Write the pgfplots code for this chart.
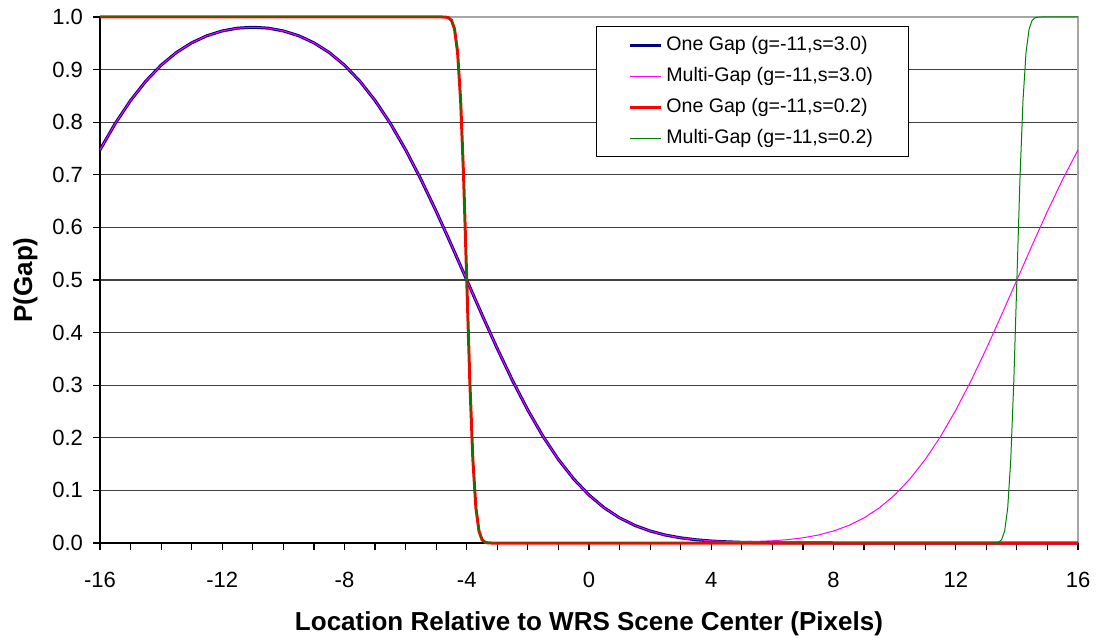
\documentclass[border=0pt]{standalone}
\usepackage{fontspec}
\setmainfont{Liberation Sans}
\usepackage{pgfplots}
\pgfplotsset{compat=1.18}
\definecolor{navy}{RGB}{0,0,128}
\definecolor{mag}{RGB}{255,0,255}
\definecolor{xlgreen}{RGB}{0,128,0}
\begin{document}
\begin{tikzpicture}
\begin{axis}[
  scale only axis, width=489pt, height=263pt,
  xmin=-16, xmax=16, ymin=0, ymax=1,
  axis lines*=left,
  axis line style={black, line width=0.6pt},
  xtick={-16,-12,-8,-4,0,4,8,12,16},
  xticklabels={-16,-12,-8,-4,0,4,8,12,16},
  minor x tick num=3,
  ytick={0,0.1,0.2,0.3,0.4,0.5,0.6,0.7,0.8,0.9,1},
  yticklabels={0.0,0.1,0.2,0.3,0.4,0.5,0.6,0.7,0.8,0.9,1.0},
  tick align=outside, major tick length=3.5pt, minor tick length=3.5pt,
  tick style={black, line width=0.6pt},
  ymajorgrids, grid style={black!75, line width=0.6pt},
  ticklabel style={font=\fontsize{11}{13}\selectfont},
  xticklabel style={yshift=-7.5pt},
  yticklabel style={xshift=-1.5pt},
  every axis x label/.style={at={(axis description cs:0.5,-0.167)}, anchor=base,
    font=\bfseries\fontsize{13}{15}\selectfont},
  every axis y label/.style={at={(axis description cs:-0.0695,0.5)}, rotate=90, anchor=base,
    font=\bfseries\fontsize{13}{15}\selectfont},
  xlabel={Location Relative to WRS Scene Center (Pixels)},
  ylabel={P(Gap)},
  clip=false,
  legend cell align=left,
  legend style={at={(axis description cs:0.507,0.983)}, anchor=north west,
    draw=black, line width=0.5pt, fill=white,
    font=\fontsize{9.8}{11.5}\selectfont,
    inner xsep=16pt, inner ysep=3pt, row sep=2.9pt, nodes={inner sep=2pt}},
  legend image code/.code={\draw[#1] (0pt,0pt) -- (15.5pt,0pt);},
]
\draw[black!35, line width=0.6pt] (rel axis cs:0,1) -- (rel axis cs:1,1) -- (rel axis cs:1,0);

\addplot[draw=navy, line width=1.5pt] coordinates {
(-16,0.7475) (-15.5,0.7977) (-15,0.8412) (-14.5,0.8781) (-14,0.9084) (-13.5,0.9325)
(-13,0.9509) (-12.5,0.9644) (-12,0.9735) (-11.5,0.9788) (-11,0.9805) (-10.5,0.9788)
(-10,0.9735) (-9.5,0.9644) (-9,0.9509) (-8.5,0.9325) (-8,0.9084) (-7.5,0.8781)
(-7,0.8412) (-6.5,0.7977) (-6,0.7475) (-5.5,0.6915) (-5,0.6306) (-4.5,0.5662)
(-4,0.5) (-3.5,0.4338) (-3,0.3694) (-2.5,0.3085) (-2,0.2525) (-1.5,0.2023)
(-1,0.1587) (-0.5,0.1217) (0,0.0912) (0.5,0.0668) (1,0.0478) (1.5,0.0334)
(2,0.0228) (2.5,0.0151) (3,0.0098) (3.5,0.0062) (4,0.0038) (4.5,0.0023)
(5,0.0013) (5.5,0.0008) (6,0.0004) (6.5,0.0002) (7,0.0001) (8,0) (16,0)};
\addlegendentry{One Gap (g=-11,s=3.0)}

\addplot[draw=mag, line width=0.5pt] coordinates {
(-16,0.7475) (-15.5,0.7977) (-15,0.8412) (-14.5,0.8781) (-14,0.9084) (-13.5,0.9325)
(-13,0.9509) (-12.5,0.9644) (-12,0.9735) (-11.5,0.9788) (-11,0.9805) (-10.5,0.9788)
(-10,0.9735) (-9.5,0.9644) (-9,0.9509) (-8.5,0.9325) (-8,0.9084) (-7.5,0.8781)
(-7,0.8412) (-6.5,0.7977) (-6,0.7475) (-5.5,0.6915) (-5,0.6306) (-4.5,0.5662)
(-4,0.5) (-3.5,0.4338) (-3,0.3694) (-2.5,0.3085) (-2,0.2525) (-1.5,0.2023)
(-1,0.1587) (-0.5,0.1217) (0,0.0912) (0.5,0.0668) (1,0.0478) (1.5,0.0334)
(2,0.0228) (2.5,0.0151) (3,0.0099) (3.5,0.0064) (4,0.0042) (4.5,0.0031)
(5,0.0027) (5.5,0.0031) (6,0.0042) (6.5,0.0064) (7,0.0099) (7.5,0.0151)
(8,0.0228) (8.5,0.0334) (9,0.0478) (9.5,0.0668) (10,0.0912) (10.5,0.1217)
(11,0.1587) (11.5,0.2023) (12,0.2525) (12.5,0.3085) (13,0.3694) (13.5,0.4338)
(14,0.5) (14.5,0.5662) (15,0.6306) (15.5,0.6915) (16,0.7475)};
\addlegendentry{Multi-Gap (g=-11,s=3.0)}

\addplot[draw=red, line width=1.5pt] coordinates {
(-16,1) (-4.8,1) (-4.7,0.9998) (-4.6,0.9987) (-4.5,0.9938) (-4.4,0.9772)
(-4.3,0.9332) (-4.2,0.8413) (-4.1,0.6915) (-4,0.5) (-3.9,0.3085) (-3.8,0.1587)
(-3.7,0.0668) (-3.6,0.0228) (-3.5,0.0062) (-3.4,0.0013) (-3.3,0.0002) (-3.2,0) (16,0)};
\addlegendentry{One Gap (g=-11,s=0.2)}

\addplot[draw=xlgreen, line width=0.5pt] coordinates {
(-16,1) (-4.8,1) (-4.7,0.9998) (-4.6,0.9987) (-4.5,0.9938) (-4.4,0.9772)
(-4.3,0.9332) (-4.2,0.8413) (-4.1,0.6915) (-4,0.5) (-3.9,0.3085) (-3.8,0.1587)
(-3.7,0.0668) (-3.6,0.0228) (-3.5,0.0062) (-3.4,0.0013) (-3.3,0.0002) (-3.2,0)
(13.2,0) (13.3,0.0002) (13.4,0.0013) (13.5,0.0062) (13.6,0.0228) (13.7,0.0668)
(13.8,0.1587) (13.9,0.3085) (14,0.5) (14.1,0.6915) (14.2,0.8413) (14.3,0.9332)
(14.4,0.9772) (14.5,0.9938) (14.6,0.9987) (14.7,0.9998) (14.8,1) (16,1)};
\addlegendentry{Multi-Gap (g=-11,s=0.2)}
\end{axis}
\pgfresetboundingbox
\path[use as bounding box] (-50pt,-47pt) rectangle (498.5pt,271.5pt);
\end{tikzpicture}
\end{document}
